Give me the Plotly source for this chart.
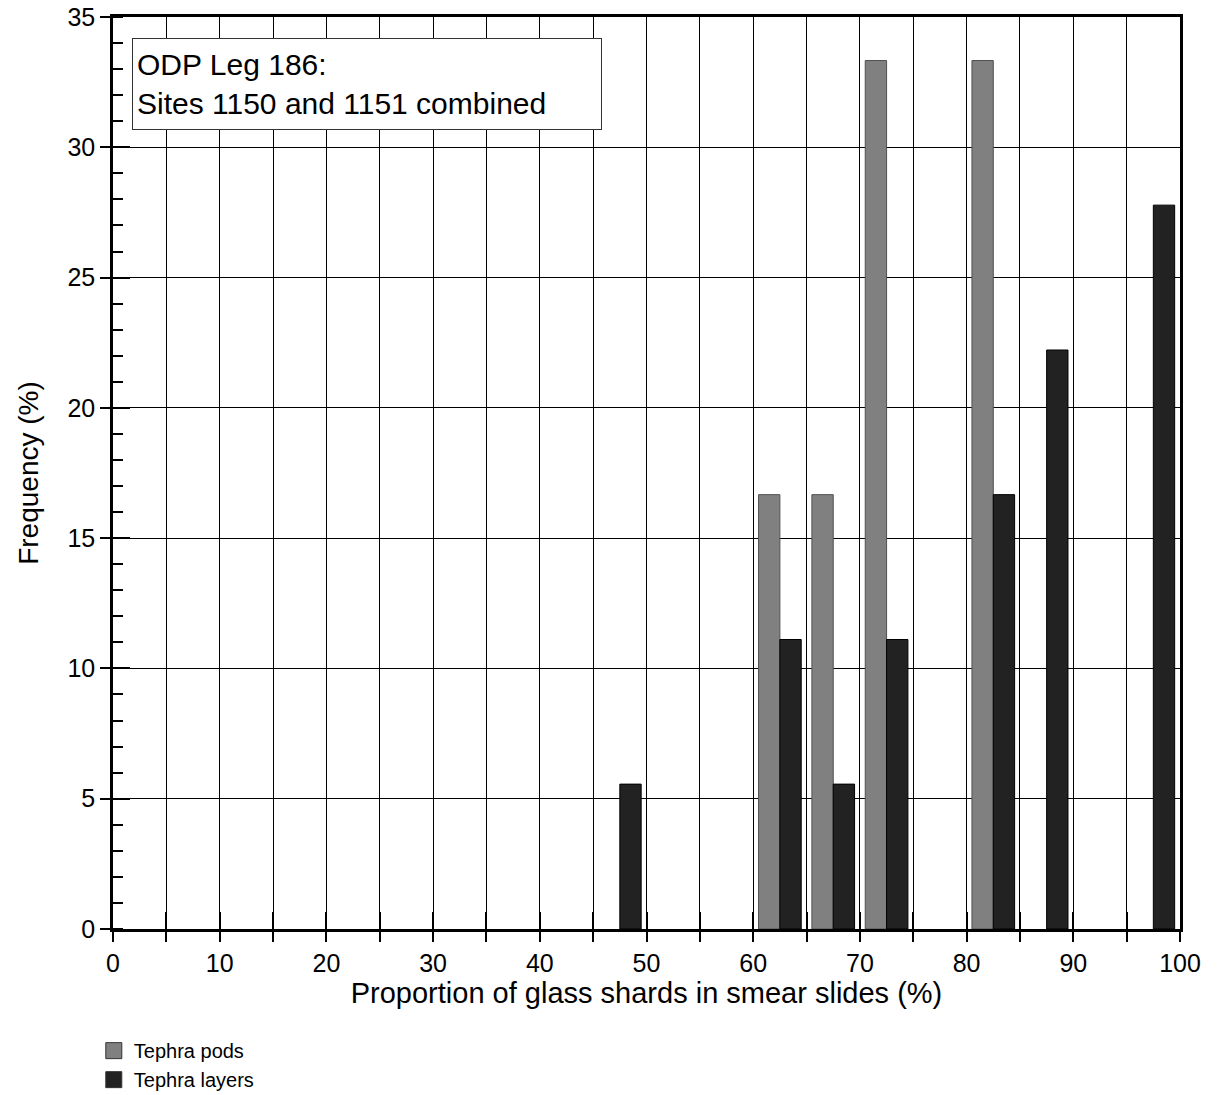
import plotly.graph_objects as go

bins = [45, 60, 65, 70, 80, 85, 95]
pods = [None, 16.67, 16.67, 33.33, 33.33, None, None]
layers = [5.56, 11.11, 5.56, 11.11, 16.67, 22.22, 27.78]
series_names = ["Tephra pods", "Tephra layers"]
series_colors = ["#808080", "#222222"]
x_ticks = list(range(0, 101, 10))
y_ticks = list(range(0, 36, 5))

FONT = "Liberation Sans, Arial, Helvetica, sans-serif"

fig = go.Figure()
fig.add_trace(go.Bar(x=bins, y=pods, name=series_names[0], width=2, offset=0.5,
                     showlegend=False,
                     marker=dict(color=series_colors[0], line=dict(color="#505050", width=1))))
fig.add_trace(go.Bar(x=bins, y=layers, name=series_names[1], width=2, offset=2.5,
                     showlegend=False,
                     marker=dict(color=series_colors[1], line=dict(color="#000000", width=1))))
# legend swatches
for name, col in zip(series_names, series_colors):
    fig.add_trace(go.Scatter(x=[None], y=[None], mode="markers", name=name,
                             marker=dict(symbol="square", size=16, color=col,
                                         line=dict(color="#333333", width=1))))
fig.add_trace(go.Scatter(x=[None], y=[None], xaxis="x2", yaxis="y2", showlegend=False,
                         hoverinfo="skip"))

fig.update_layout(
    width=1217, height=1095,
    margin=dict(l=113, r=37, t=17, b=166, autoexpand=False),
    paper_bgcolor="white", plot_bgcolor="white",
    barmode="overlay",
    font=dict(family=FONT, color="black", size=25),
    xaxis=dict(range=[0, 100], tickvals=x_ticks, ticks="outside", ticklen=10, tickwidth=2,
               tickcolor="black", showgrid=True, gridcolor="black", gridwidth=1.2,
               minor=dict(dtick=5, ticks="outside", ticklen=10, tickwidth=2, tickcolor="black",
                          showgrid=True, gridcolor="black", gridwidth=1.2),
               showline=True, linecolor="black", linewidth=2.5, mirror=True,
               zeroline=False, tickfont=dict(size=25),
               title=dict(text="Proportion of glass shards in smear slides (%)",
                          font=dict(size=29), standoff=6)),
    yaxis=dict(range=[0, 35], tickvals=y_ticks, ticks="outside", ticklen=10, tickwidth=2,
               tickcolor="black", showgrid=True, gridcolor="black", gridwidth=1.2,
               minor=dict(dtick=1, ticks="inside", ticklen=10, tickwidth=1.5, tickcolor="black",
                          showgrid=False),
               showline=True, linecolor="black", linewidth=2.5, mirror=True,
               zeroline=False, tickfont=dict(size=25),
               title=dict(text="Frequency (%)", font=dict(size=28), standoff=21)),
    xaxis2=dict(range=[0, 100], overlaying="x", anchor="y2", side="bottom", dtick=5,
                ticks="inside", ticklen=17, tickwidth=2, tickcolor="black",
                showticklabels=False, showgrid=False, zeroline=False, showline=False),
    yaxis2=dict(range=[0, 35], overlaying="y", anchor="x2", side="left", dtick=5,
                ticks="inside", ticklen=17, tickwidth=2, tickcolor="black",
                showticklabels=False, showgrid=False, zeroline=False, showline=False),
    legend=dict(x=-0.018, y=-0.112, xanchor="left", yanchor="top", orientation="v",
                font=dict(size=20), bgcolor="rgba(0,0,0,0)", traceorder="normal",
                itemwidth=30, tracegroupgap=0, itemsizing="trace"),
    annotations=[dict(xref="paper", yref="paper", x=(132 - 113) / 1067, y=(929 - 38) / 912,
                      xanchor="left", yanchor="top", align="left", valign="middle",
                      width=460, height=82,
                      text="ODP Leg 186:<br>Sites 1150 and 1151 combined",
                      font=dict(size=30), showarrow=False, bgcolor="white",
                      bordercolor="#333333", borderwidth=1, borderpad=4)],
)

fig.write_html("out.html", config={"displayModeBar": False},
               post_script="document.body.style.margin='0px';")
